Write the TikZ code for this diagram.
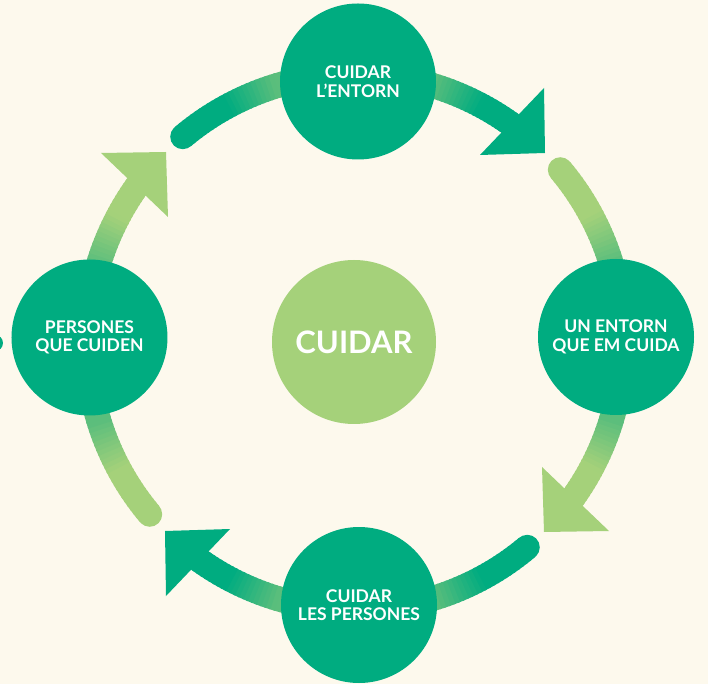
\documentclass[tikz,border=0pt]{standalone}
\usepackage{fontspec}
\setmainfont{Lato}
\definecolor{bgc}{HTML}{FDF9ED}
\definecolor{darkg}{HTML}{00AC80}
\definecolor{lightg}{HTML}{A5D17A}
\definecolor{midg}{HTML}{5BBE7C}
\tikzset{
  shaftline/.style={line width=25pt},
  bignode/.style={circle, fill=darkg, minimum size=156pt, inner sep=0pt, text=white, align=center,
    font=\fontsize{17.5pt}{18.5pt}\selectfont\bfseries},
  hubnode/.style={circle, fill=lightg, minimum size=164pt, inner sep=0pt, text=white,
    font=\fontsize{31pt}{33pt}\selectfont\bfseries},
}
\newcommand\myshaft[4]{%
  \foreach \k in {0,...,39}{%
    \pgfmathsetmacro\myaA{#1+(#2-#1)*\k/40}%
    \pgfmathsetmacro\myaB{#1+(#2-#1)*(\k+1.4)/40}%
    \pgfmathsetmacro\mydd{abs((\myaA+\myaB)/2-(#3))}%
    \pgfmathtruncatemacro\mytp{min(100,max(0,(\mydd-17)/11*100))}%
    \draw[shaftline,color=#4!\mytp!midg] (\myaA:268pt) arc[start angle=\myaA, end angle=\myaB, radius=268pt];
  }}
\begin{document}
\begin{tikzpicture}[x=1pt,y=1pt]
\fill[bgc] (-355,-342) rectangle (353,342);
\useasboundingbox (-355,-342) rectangle (353,342);
% shafts
\myshaft{90}{51}{90}{darkg}
\myshaft{40}{0}{0}{lightg}
\myshaft{0}{-39}{0}{lightg}
\myshaft{-50}{-90}{-90}{darkg}
\myshaft{-90}{-129}{-90}{darkg}
\myshaft{-140}{-180}{-180}{lightg}
\myshaft{180}{141}{180}{lightg}
\myshaft{130}{90}{90}{darkg}
% round starts
\fill[lightg] (40:268pt) circle[radius=12.5pt];
\fill[darkg] (-50:268pt) circle[radius=12.5pt];
\fill[lightg] (-140:268pt) circle[radius=12.5pt];
\fill[darkg] (130:268pt) circle[radius=12.5pt];
% arrowheads
\fill[darkg] (190,189) -- (189,254) -- (125,187) -- cycle;
\fill[lightg] (189,-190) -- (254,-189) -- (187,-125) -- cycle;
\fill[darkg] (-190,-189) -- (-189,-254) -- (-125,-187) -- cycle;
\fill[lightg] (-189,190) -- (-254,189) -- (-187,125) -- cycle;
% nodes
\node[bignode] (entorn) at (3,260.5) {CUIDAR\\L’ENTORN};
\node[bignode] (unentorn) at (261,5) {UN ENTORN\\QUE EM CUIDA};
\node[bignode] (persones) at (4,-263) {CUIDAR\\LES PERSONES};
\node[bignode] (cuiden) at (-265.5,4.5) {PERSONES\\QUE CUIDEN};
\node[hubnode] (hub) at (-1,0) {CUIDAR};
% fragment at left edge
\fill[darkg] (-360,-1) circle[radius=8];
\end{tikzpicture}
\end{document}
